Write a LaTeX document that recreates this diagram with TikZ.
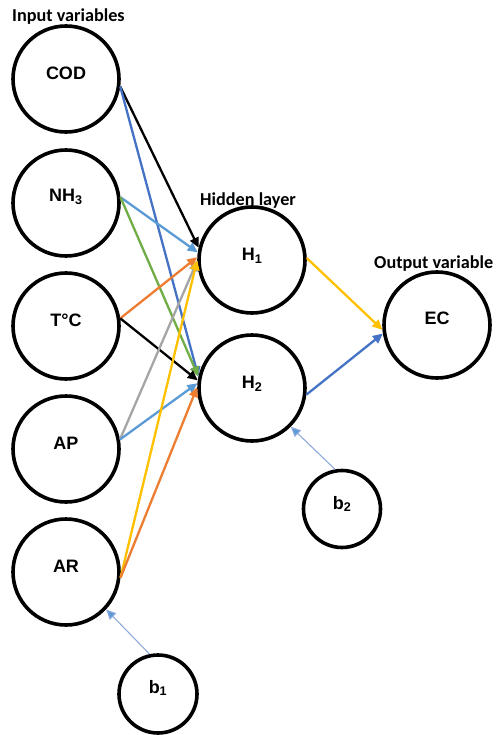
\documentclass[tikz,border=0pt]{standalone}
\usepackage{fontspec}
\setmainfont{Liberation Sans}
\newfontfamily\headfont{Carlito}
\usetikzlibrary{arrows.meta}

\definecolor{cblack}{HTML}{000000}
\definecolor{cdblue}{HTML}{4472C4}
\definecolor{clblue}{HTML}{5B9BD5}
\definecolor{cgreen}{HTML}{70AD47}
\definecolor{corange}{HTML}{ED7D31}
\definecolor{cgray}{HTML}{A5A5A5}
\definecolor{cyellow}{HTML}{FFC000}
\definecolor{cbias}{HTML}{8FAADC}

\tikzset{
  neuron/.style={circle, draw=black, line width=3.6pt, minimum size=#1, inner sep=0pt},
  neuron/.default=106pt,
  nlabel/.style={font=\fontsize{18}{20}\selectfont\bfseries, inner sep=0pt},
  heading/.style={font=\headfont\fontsize{18.2}{20}\selectfont\bfseries, inner sep=0pt, anchor=base west},
  wire/.style={line width=2.3pt, draw=#1, -{Triangle[length=10pt,width=9pt,fill=#1]}},
  biaswire/.style={line width=1.1pt, draw=cbias, -{Triangle[length=10pt,width=9pt,fill=clblue]}},
}

\begin{document}
\begin{tikzpicture}[x=1pt,y=-1pt]
  \useasboundingbox (0,0) rectangle (496,735);

  % headings
  \node[heading] (hin)  at (12,22)  {Input variables};
  \node[heading] (hhid) at (200,205) {Hidden layer};
  \node[heading] (hout) at (374,268) {Output variable};

  % input layer
  \node[neuron] (cod) at (66,79)  {};
  \node[neuron] (nh3) at (66,203) {};
  \node[neuron] (tc)  at (66,326) {};
  \node[neuron] (ap)  at (66,449) {};
  \node[neuron] (ar)  at (66,572) {};

  % hidden layer
  \node[neuron] (h1) at (252,260) {};
  \node[neuron] (h2) at (252,388) {};

  % output
  \node[neuron] (ec) at (437,325) {};

  % biases
  \node[neuron=78pt] (b1) at (158,694) {};
  \node[neuron=77pt] (b2) at (342,509) {};

  % labels
  \node[nlabel] (lcod) at ([yshift=6pt]cod.center) {COD};
  \node[nlabel] (lnh3) at ([yshift=6pt]nh3.center) {NH\textsubscript{3}};
  \node[nlabel] (ltc)  at ([yshift=6pt]tc.center)  {T°C};
  \node[nlabel] (lap)  at ([yshift=6pt]ap.center)  {AP};
  \node[nlabel] (lar)  at ([yshift=6pt]ar.center)  {AR};
  \node[nlabel] (lh1)  at ([yshift=4pt]h1.center)  {H\textsubscript{1}};
  \node[nlabel] (lh2)  at ([yshift=4pt]h2.center)  {H\textsubscript{2}};
  \node[nlabel] (lec)  at ([yshift=7pt]ec.center)  {EC};
  \node[nlabel] (lb1)  at ([yshift=6pt]b1.center)  {b\textsubscript{1}};
  \node[nlabel] (lb2)  at ([yshift=5pt]b2.center)  {b\textsubscript{2}};

  % input -> hidden
  \draw[wire=cblack]  (cod.-8) -- (h1.167);
  \draw[wire=cdblue]  (cod.-8) -- (h2.168);
  \draw[wire=clblue]  (nh3.6)  -- (h1.172);
  \draw[wire=cgreen]  (nh3.6)  -- (h2.168);
  \draw[wire=corange] (tc.8)   -- (h1.177);
  \draw[wire=cblack]  (tc.8)   -- (h2.172);
  \draw[wire=cgray]   (ap.10)  -- (h1.181);
  \draw[wire=clblue]  (ap.10)  -- (h2.175);
  \draw[wire=cyellow] (ar.-6)  -- (h1.180);
  \draw[wire=corange] (ar.-6)  -- (h2.179);

  % hidden -> output
  \draw[wire=cyellow] (h1.2)  -- (ec.185);
  \draw[wire=cdblue]  (h2.-7) -- (ec.189);

  % bias connections
  \draw[biaswire] (b1.102) -- (ar.-43);
  \draw[biaswire] (b2.100) -- (h2.-45);
\end{tikzpicture}
\end{document}
